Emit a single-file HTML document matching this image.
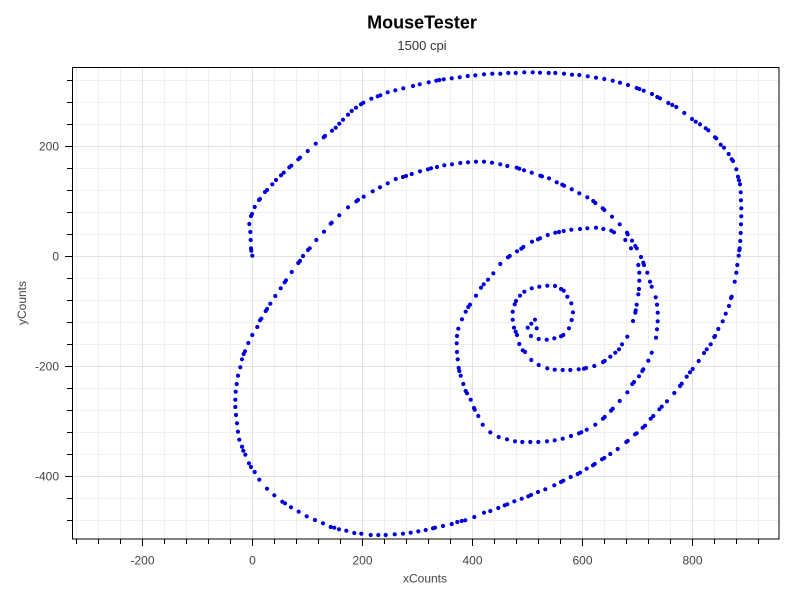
<!DOCTYPE html>
<html><head><meta charset="utf-8"><style>
html,body{margin:0;padding:0;background:#fff;}
svg{display:block;}
text{font-family:"Liberation Sans",sans-serif;}
</style></head><body>
<svg width="800" height="600" viewBox="0 0 800 600" xmlns="http://www.w3.org/2000/svg">
<rect width="800" height="600" fill="#fff"/>
<text x="422" y="28.5" font-size="18" font-weight="bold" text-anchor="middle" fill="#000">MouseTester</text>
<text x="422" y="50" font-size="13" text-anchor="middle" fill="#333">1500 cpi</text>
<g id="grid" stroke-width="1" shape-rendering="crispEdges">
<g stroke="#f0f0f0">
<line x1="76.5" y1="67" x2="76.5" y2="539"/><line x1="98.5" y1="67" x2="98.5" y2="539"/><line x1="120.5" y1="67" x2="120.5" y2="539"/><line x1="164.5" y1="67" x2="164.5" y2="539"/><line x1="186.5" y1="67" x2="186.5" y2="539"/><line x1="208.5" y1="67" x2="208.5" y2="539"/><line x1="230.5" y1="67" x2="230.5" y2="539"/><line x1="274.5" y1="67" x2="274.5" y2="539"/><line x1="296.5" y1="67" x2="296.5" y2="539"/><line x1="318.5" y1="67" x2="318.5" y2="539"/><line x1="340.5" y1="67" x2="340.5" y2="539"/><line x1="384.5" y1="67" x2="384.5" y2="539"/><line x1="406.5" y1="67" x2="406.5" y2="539"/><line x1="428.5" y1="67" x2="428.5" y2="539"/><line x1="450.5" y1="67" x2="450.5" y2="539"/><line x1="494.5" y1="67" x2="494.5" y2="539"/><line x1="516.5" y1="67" x2="516.5" y2="539"/><line x1="538.5" y1="67" x2="538.5" y2="539"/><line x1="560.5" y1="67" x2="560.5" y2="539"/><line x1="604.5" y1="67" x2="604.5" y2="539"/><line x1="626.5" y1="67" x2="626.5" y2="539"/><line x1="648.5" y1="67" x2="648.5" y2="539"/><line x1="670.5" y1="67" x2="670.5" y2="539"/><line x1="714.5" y1="67" x2="714.5" y2="539"/><line x1="736.5" y1="67" x2="736.5" y2="539"/><line x1="758.5" y1="67" x2="758.5" y2="539"/>
<line x1="72" y1="80.5" x2="779" y2="80.5"/><line x1="72" y1="102.5" x2="779" y2="102.5"/><line x1="72" y1="124.5" x2="779" y2="124.5"/><line x1="72" y1="168.5" x2="779" y2="168.5"/><line x1="72" y1="190.5" x2="779" y2="190.5"/><line x1="72" y1="212.5" x2="779" y2="212.5"/><line x1="72" y1="234.5" x2="779" y2="234.5"/><line x1="72" y1="278.5" x2="779" y2="278.5"/><line x1="72" y1="300.5" x2="779" y2="300.5"/><line x1="72" y1="322.5" x2="779" y2="322.5"/><line x1="72" y1="344.5" x2="779" y2="344.5"/><line x1="72" y1="388.5" x2="779" y2="388.5"/><line x1="72" y1="410.5" x2="779" y2="410.5"/><line x1="72" y1="432.5" x2="779" y2="432.5"/><line x1="72" y1="454.5" x2="779" y2="454.5"/><line x1="72" y1="498.5" x2="779" y2="498.5"/><line x1="72" y1="520.5" x2="779" y2="520.5"/>
</g>
<g stroke="#e2e2e2">
<line x1="142.5" y1="67" x2="142.5" y2="539"/><line x1="252.5" y1="67" x2="252.5" y2="539"/><line x1="362.5" y1="67" x2="362.5" y2="539"/><line x1="472.5" y1="67" x2="472.5" y2="539"/><line x1="582.5" y1="67" x2="582.5" y2="539"/><line x1="692.5" y1="67" x2="692.5" y2="539"/>
<line x1="72" y1="146.5" x2="779" y2="146.5"/><line x1="72" y1="256.5" x2="779" y2="256.5"/><line x1="72" y1="366.5" x2="779" y2="366.5"/><line x1="72" y1="476.5" x2="779" y2="476.5"/>
</g>
</g>
<rect x="72.5" y="67.5" width="706.5" height="471.5" fill="none" stroke="#000" stroke-width="1" shape-rendering="crispEdges"/>
<g stroke="#000" stroke-width="1" shape-rendering="crispEdges">
<line x1="76.5" y1="539" x2="76.5" y2="544"/><line x1="98.5" y1="539" x2="98.5" y2="544"/><line x1="120.5" y1="539" x2="120.5" y2="544"/><line x1="142.5" y1="539" x2="142.5" y2="546"/><line x1="164.5" y1="539" x2="164.5" y2="544"/><line x1="186.5" y1="539" x2="186.5" y2="544"/><line x1="208.5" y1="539" x2="208.5" y2="544"/><line x1="230.5" y1="539" x2="230.5" y2="544"/><line x1="252.5" y1="539" x2="252.5" y2="546"/><line x1="274.5" y1="539" x2="274.5" y2="544"/><line x1="296.5" y1="539" x2="296.5" y2="544"/><line x1="318.5" y1="539" x2="318.5" y2="544"/><line x1="340.5" y1="539" x2="340.5" y2="544"/><line x1="362.5" y1="539" x2="362.5" y2="546"/><line x1="384.5" y1="539" x2="384.5" y2="544"/><line x1="406.5" y1="539" x2="406.5" y2="544"/><line x1="428.5" y1="539" x2="428.5" y2="544"/><line x1="450.5" y1="539" x2="450.5" y2="544"/><line x1="472.5" y1="539" x2="472.5" y2="546"/><line x1="494.5" y1="539" x2="494.5" y2="544"/><line x1="516.5" y1="539" x2="516.5" y2="544"/><line x1="538.5" y1="539" x2="538.5" y2="544"/><line x1="560.5" y1="539" x2="560.5" y2="544"/><line x1="582.5" y1="539" x2="582.5" y2="546"/><line x1="604.5" y1="539" x2="604.5" y2="544"/><line x1="626.5" y1="539" x2="626.5" y2="544"/><line x1="648.5" y1="539" x2="648.5" y2="544"/><line x1="670.5" y1="539" x2="670.5" y2="544"/><line x1="692.5" y1="539" x2="692.5" y2="546"/><line x1="714.5" y1="539" x2="714.5" y2="544"/><line x1="736.5" y1="539" x2="736.5" y2="544"/><line x1="758.5" y1="539" x2="758.5" y2="544"/>
<line x1="67" y1="80.5" x2="72" y2="80.5"/><line x1="67" y1="102.5" x2="72" y2="102.5"/><line x1="67" y1="124.5" x2="72" y2="124.5"/><line x1="65" y1="146.5" x2="72" y2="146.5"/><line x1="67" y1="168.5" x2="72" y2="168.5"/><line x1="67" y1="190.5" x2="72" y2="190.5"/><line x1="67" y1="212.5" x2="72" y2="212.5"/><line x1="67" y1="234.5" x2="72" y2="234.5"/><line x1="65" y1="256.5" x2="72" y2="256.5"/><line x1="67" y1="278.5" x2="72" y2="278.5"/><line x1="67" y1="300.5" x2="72" y2="300.5"/><line x1="67" y1="322.5" x2="72" y2="322.5"/><line x1="67" y1="344.5" x2="72" y2="344.5"/><line x1="65" y1="366.5" x2="72" y2="366.5"/><line x1="67" y1="388.5" x2="72" y2="388.5"/><line x1="67" y1="410.5" x2="72" y2="410.5"/><line x1="67" y1="432.5" x2="72" y2="432.5"/><line x1="67" y1="454.5" x2="72" y2="454.5"/><line x1="65" y1="476.5" x2="72" y2="476.5"/><line x1="67" y1="498.5" x2="72" y2="498.5"/><line x1="67" y1="520.5" x2="72" y2="520.5"/>
</g>
<g font-size="12" fill="#444" text-anchor="middle">
<text x="142.5" y="564.5">-200</text><text x="252.5" y="564.5">0</text><text x="362.5" y="564.5">200</text><text x="472.5" y="564.5">400</text><text x="582.5" y="564.5">600</text><text x="692.5" y="564.5">800</text>
</g>
<g font-size="12" fill="#444" text-anchor="end">
<text x="59" y="150.5">200</text><text x="59" y="260.5">0</text><text x="59" y="370.5">-200</text><text x="59" y="480.5">-400</text>
</g>
<text x="425" y="582.5" font-size="12" fill="#444" text-anchor="middle">xCounts</text>
<text transform="translate(26,303) rotate(-90)" x="0" y="0" font-size="12" fill="#444" text-anchor="middle">yCounts</text>
<g fill="#0000dc" id="dots">
<circle cx="252.3" cy="255.7" r="2.1"/><circle cx="251.3" cy="250.7" r="2.1"/><circle cx="251" cy="248.3" r="2.1"/><circle cx="250.7" cy="240" r="2.1"/><circle cx="250.3" cy="232" r="2.1"/><circle cx="249.3" cy="224" r="2.1"/><circle cx="251" cy="216" r="2.1"/><circle cx="252" cy="214" r="2.1"/><circle cx="254.7" cy="207" r="2.1"/><circle cx="259" cy="200" r="2.1"/><circle cx="260" cy="199" r="2.1"/><circle cx="265" cy="192" r="2.1"/><circle cx="267" cy="190" r="2.1"/><circle cx="272.3" cy="184.3" r="2.1"/><circle cx="276" cy="180" r="2.1"/><circle cx="281" cy="175.3" r="2.1"/><circle cx="283.7" cy="172.7" r="2.1"/><circle cx="289.3" cy="167.3" r="2.1"/><circle cx="291.3" cy="165.7" r="2.1"/><circle cx="298.3" cy="159.3" r="2.1"/><circle cx="300" cy="157.7" r="2.1"/><circle cx="307.7" cy="151" r="2.1"/><circle cx="315.7" cy="143.7" r="2.1"/><circle cx="323.7" cy="137.3" r="2.1"/><circle cx="325" cy="136" r="2.1"/><circle cx="332" cy="130.7" r="2.1"/><circle cx="335.7" cy="127.7" r="2.1"/><circle cx="339.3" cy="123.7" r="2.1"/><circle cx="343" cy="119.7" r="2.1"/><circle cx="348" cy="114.7" r="2.1"/><circle cx="351.7" cy="111" r="2.1"/><circle cx="356" cy="107.7" r="2.1"/><circle cx="361" cy="104.3" r="2.1"/><circle cx="363.3" cy="102.7" r="2.1"/><circle cx="371.3" cy="98.7" r="2.1"/><circle cx="377.7" cy="96.3" r="2.1"/><circle cx="380.3" cy="95.3" r="2.1"/><circle cx="387.7" cy="92.3" r="2.1"/><circle cx="395.3" cy="90.3" r="2.1"/><circle cx="403.3" cy="88.3" r="2.1"/><circle cx="413" cy="86" r="2.1"/><circle cx="419.7" cy="84.3" r="2.1"/><circle cx="428.7" cy="82.3" r="2.1"/><circle cx="436.3" cy="80.7" r="2.1"/><circle cx="439.3" cy="80" r="2.1"/><circle cx="443.7" cy="79.3" r="2.1"/><circle cx="451.7" cy="78.3" r="2.1"/><circle cx="459.7" cy="77.3" r="2.1"/><circle cx="467.7" cy="76" r="2.1"/><circle cx="475.3" cy="75.3" r="2.1"/><circle cx="484" cy="74.3" r="2.1"/><circle cx="492.3" cy="73.7" r="2.1"/><circle cx="500.3" cy="73.7" r="2.1"/><circle cx="508.3" cy="73" r="2.1"/><circle cx="515.7" cy="73" r="2.1"/><circle cx="524.3" cy="72.3" r="2.1"/><circle cx="532.7" cy="72.3" r="2.1"/><circle cx="540" cy="72.7" r="2.1"/><circle cx="548.7" cy="73" r="2.1"/><circle cx="555.3" cy="73" r="2.1"/><circle cx="564" cy="73.7" r="2.1"/><circle cx="572" cy="74.7" r="2.1"/><circle cx="579.3" cy="75" r="2.1"/><circle cx="587.7" cy="76.3" r="2.1"/><circle cx="596" cy="77.7" r="2.1"/><circle cx="604.3" cy="79" r="2.1"/><circle cx="612.7" cy="80.7" r="2.1"/><circle cx="620" cy="82.7" r="2.1"/><circle cx="628" cy="85" r="2.1"/><circle cx="636.7" cy="88" r="2.1"/><circle cx="639.3" cy="89" r="2.1"/><circle cx="643.7" cy="90.7" r="2.1"/><circle cx="652" cy="94" r="2.1"/><circle cx="657.3" cy="97" r="2.1"/><circle cx="660" cy="98.3" r="2.1"/><circle cx="668.3" cy="103" r="2.1"/><circle cx="672.3" cy="105" r="2.1"/><circle cx="676.3" cy="107" r="2.1"/><circle cx="684.3" cy="113" r="2.1"/><circle cx="692" cy="119" r="2.1"/><circle cx="695.7" cy="121.7" r="2.1"/><circle cx="700" cy="124.3" r="2.1"/><circle cx="705.7" cy="128.3" r="2.1"/><circle cx="708.3" cy="130.3" r="2.1"/><circle cx="715" cy="137.3" r="2.1"/><circle cx="716.3" cy="138.3" r="2.1"/><circle cx="720.7" cy="144.7" r="2.1"/><circle cx="724" cy="147.7" r="2.1"/><circle cx="728.7" cy="154" r="2.1"/><circle cx="731.7" cy="159.3" r="2.1"/><circle cx="733" cy="161" r="2.1"/><circle cx="736.3" cy="169.3" r="2.1"/><circle cx="738" cy="176.7" r="2.1"/><circle cx="739" cy="180.3" r="2.1"/><circle cx="740" cy="184.3" r="2.1"/><circle cx="740.7" cy="192.3" r="2.1"/><circle cx="741" cy="200.3" r="2.1"/><circle cx="741.3" cy="208.3" r="2.1"/><circle cx="741.3" cy="216.3" r="2.1"/><circle cx="741" cy="224.3" r="2.1"/><circle cx="740.7" cy="233" r="2.1"/><circle cx="740.3" cy="241" r="2.1"/><circle cx="739.7" cy="248.3" r="2.1"/><circle cx="739.3" cy="250.3" r="2.1"/><circle cx="738.7" cy="255.7" r="2.1"/><circle cx="737.3" cy="265" r="2.1"/><circle cx="736.3" cy="272.7" r="2.1"/>
<circle cx="734.7" cy="281.7" r="2.1"/><circle cx="731.7" cy="296.7" r="2.1"/><circle cx="731" cy="298" r="2.1"/><circle cx="729" cy="306" r="2.1"/><circle cx="725.7" cy="313.7" r="2.1"/><circle cx="722.7" cy="321.3" r="2.1"/><circle cx="718.3" cy="329" r="2.1"/><circle cx="715" cy="336" r="2.1"/><circle cx="714.3" cy="337" r="2.1"/><circle cx="710.7" cy="344.3" r="2.1"/><circle cx="706.7" cy="349.3" r="2.1"/><circle cx="704" cy="353" r="2.1"/><circle cx="698.7" cy="361" r="2.1"/><circle cx="692.7" cy="369" r="2.1"/><circle cx="690" cy="372.3" r="2.1"/><circle cx="686.7" cy="376.7" r="2.1"/><circle cx="681.7" cy="383.7" r="2.1"/><circle cx="680" cy="386" r="2.1"/><circle cx="674.3" cy="393" r="2.1"/><circle cx="667" cy="401.3" r="2.1"/><circle cx="661.7" cy="406.7" r="2.1"/><circle cx="659.3" cy="409.3" r="2.1"/><circle cx="653.3" cy="416" r="2.1"/><circle cx="650.7" cy="418.7" r="2.1"/><circle cx="645" cy="425.7" r="2.1"/><circle cx="642.7" cy="427.7" r="2.1"/><circle cx="636.7" cy="433.3" r="2.1"/><circle cx="635" cy="434.3" r="2.1"/><circle cx="627.7" cy="441" r="2.1"/><circle cx="626.3" cy="442" r="2.1"/><circle cx="617.7" cy="449" r="2.1"/><circle cx="610.3" cy="454" r="2.1"/><circle cx="604.3" cy="458" r="2.1"/><circle cx="602" cy="459.3" r="2.1"/><circle cx="594.7" cy="464" r="2.1"/><circle cx="593" cy="465.3" r="2.1"/><circle cx="586.7" cy="468.7" r="2.1"/><circle cx="580" cy="472.7" r="2.1"/><circle cx="577.7" cy="474" r="2.1"/><circle cx="570.7" cy="477" r="2.1"/><circle cx="563.3" cy="480.7" r="2.1"/><circle cx="561" cy="482" r="2.1"/><circle cx="554.3" cy="485.3" r="2.1"/><circle cx="545.3" cy="489.3" r="2.1"/><circle cx="538" cy="492" r="2.1"/><circle cx="531" cy="495" r="2.1"/><circle cx="528.3" cy="496.3" r="2.1"/><circle cx="521.7" cy="498.7" r="2.1"/><circle cx="514.3" cy="501.3" r="2.1"/><circle cx="507.3" cy="504.3" r="2.1"/><circle cx="504.7" cy="505.3" r="2.1"/><circle cx="498.3" cy="508" r="2.1"/><circle cx="490.3" cy="511" r="2.1"/><circle cx="484" cy="512.7" r="2.1"/><circle cx="474.3" cy="517" r="2.1"/><circle cx="465.3" cy="520.3" r="2.1"/><circle cx="461.7" cy="521" r="2.1"/><circle cx="457.3" cy="522" r="2.1"/><circle cx="451.7" cy="524" r="2.1"/><circle cx="443" cy="526" r="2.1"/><circle cx="435" cy="527.7" r="2.1"/><circle cx="433" cy="528.3" r="2.1"/><circle cx="425.7" cy="530" r="2.1"/><circle cx="418.3" cy="531.3" r="2.1"/><circle cx="410.7" cy="532.7" r="2.1"/><circle cx="403" cy="533.7" r="2.1"/><circle cx="394.7" cy="534.3" r="2.1"/><circle cx="385.7" cy="535" r="2.1"/><circle cx="378.3" cy="535" r="2.1"/><circle cx="370.7" cy="535" r="2.1"/><circle cx="361.3" cy="533.7" r="2.1"/><circle cx="354.3" cy="533" r="2.1"/><circle cx="346.3" cy="530.7" r="2.1"/><circle cx="339" cy="529.3" r="2.1"/><circle cx="334.3" cy="527.7" r="2.1"/><circle cx="330.7" cy="527" r="2.1"/><circle cx="323" cy="523.3" r="2.1"/><circle cx="315" cy="520" r="2.1"/><circle cx="306.7" cy="516.3" r="2.1"/><circle cx="298.7" cy="511.7" r="2.1"/><circle cx="291" cy="507.3" r="2.1"/><circle cx="285" cy="503.3" r="2.1"/><circle cx="282.3" cy="501.7" r="2.1"/><circle cx="274.3" cy="495.3" r="2.1"/><circle cx="267" cy="488.7" r="2.1"/><circle cx="259.3" cy="479.7" r="2.1"/><circle cx="254.7" cy="472" r="2.1"/><circle cx="251" cy="467" r="2.1"/><circle cx="249" cy="463.3" r="2.1"/><circle cx="245.3" cy="454.7" r="2.1"/><circle cx="243.3" cy="450.7" r="2.1"/><circle cx="242" cy="446.7" r="2.1"/><circle cx="239.3" cy="439.7" r="2.1"/><circle cx="238" cy="431.7" r="2.1"/><circle cx="237" cy="423.3" r="2.1"/><circle cx="236" cy="415" r="2.1"/><circle cx="235.3" cy="407" r="2.1"/><circle cx="235.3" cy="399.7" r="2.1"/><circle cx="235.7" cy="391.7" r="2.1"/><circle cx="236.7" cy="384" r="2.1"/><circle cx="238" cy="375.7" r="2.1"/><circle cx="240.3" cy="367.3" r="2.1"/><circle cx="242" cy="359.3" r="2.1"/><circle cx="243.7" cy="354" r="2.1"/><circle cx="245" cy="351.3" r="2.1"/><circle cx="248.3" cy="343" r="2.1"/><circle cx="252.3" cy="335" r="2.1"/><circle cx="257.3" cy="327" r="2.1"/><circle cx="260" cy="320.3" r="2.1"/><circle cx="261.3" cy="318.7" r="2.1"/><circle cx="265.7" cy="311" r="2.1"/><circle cx="267" cy="309" r="2.1"/><circle cx="270.3" cy="303.7" r="2.1"/><circle cx="275.3" cy="296" r="2.1"/><circle cx="280.7" cy="288.3" r="2.1"/><circle cx="284.7" cy="282.3" r="2.1"/><circle cx="286" cy="280.3" r="2.1"/><circle cx="291.7" cy="272" r="2.1"/><circle cx="298.3" cy="263" r="2.1"/>
<circle cx="300" cy="261" r="2.1"/><circle cx="303" cy="256" r="2.1"/><circle cx="308" cy="250" r="2.1"/><circle cx="309.7" cy="248.3" r="2.1"/><circle cx="316.3" cy="240" r="2.1"/><circle cx="324" cy="231.7" r="2.1"/><circle cx="330.7" cy="223.7" r="2.1"/><circle cx="331.7" cy="222.7" r="2.1"/><circle cx="339.3" cy="215.3" r="2.1"/><circle cx="348" cy="207.3" r="2.1"/><circle cx="356.3" cy="201.3" r="2.1"/><circle cx="358" cy="200" r="2.1"/><circle cx="363.7" cy="196.7" r="2.1"/><circle cx="372.7" cy="191.3" r="2.1"/><circle cx="380" cy="187.3" r="2.1"/><circle cx="387.7" cy="183.3" r="2.1"/><circle cx="395.7" cy="179" r="2.1"/><circle cx="403" cy="177" r="2.1"/><circle cx="406" cy="176" r="2.1"/><circle cx="411.7" cy="174" r="2.1"/><circle cx="420" cy="171.3" r="2.1"/><circle cx="428" cy="169.3" r="2.1"/><circle cx="431" cy="168.3" r="2.1"/><circle cx="437" cy="167" r="2.1"/><circle cx="444.3" cy="165.3" r="2.1"/><circle cx="452" cy="164.3" r="2.1"/><circle cx="460.3" cy="163" r="2.1"/><circle cx="468" cy="162.3" r="2.1"/><circle cx="476" cy="161.7" r="2.1"/><circle cx="484" cy="161.7" r="2.1"/><circle cx="492" cy="162.7" r="2.1"/><circle cx="500.3" cy="164.3" r="2.1"/><circle cx="507.3" cy="166" r="2.1"/><circle cx="516.7" cy="167.7" r="2.1"/><circle cx="519.3" cy="168.7" r="2.1"/><circle cx="524" cy="170.3" r="2.1"/><circle cx="531.7" cy="172.7" r="2.1"/><circle cx="540.3" cy="175.7" r="2.1"/><circle cx="542" cy="176.3" r="2.1"/><circle cx="549" cy="178.3" r="2.1"/><circle cx="556.7" cy="182.3" r="2.1"/><circle cx="562.3" cy="184.7" r="2.1"/><circle cx="564" cy="185.7" r="2.1"/><circle cx="571.7" cy="189.3" r="2.1"/><circle cx="579.3" cy="193.3" r="2.1"/><circle cx="587.3" cy="197.3" r="2.1"/><circle cx="593.3" cy="201" r="2.1"/><circle cx="595.3" cy="203" r="2.1"/><circle cx="602.7" cy="208.3" r="2.1"/><circle cx="604.3" cy="210" r="2.1"/><circle cx="612" cy="216.7" r="2.1"/><circle cx="619.7" cy="224.3" r="2.1"/><circle cx="627" cy="232.7" r="2.1"/><circle cx="627.7" cy="234.3" r="2.1"/><circle cx="632" cy="240.7" r="2.1"/><circle cx="635.3" cy="246" r="2.1"/><circle cx="636.7" cy="248.3" r="2.1"/><circle cx="641" cy="257" r="2.1"/><circle cx="643.3" cy="262.7" r="2.1"/><circle cx="644" cy="265" r="2.1"/><circle cx="647.3" cy="272.7" r="2.1"/><circle cx="650" cy="281.7" r="2.1"/><circle cx="651.7" cy="286.7" r="2.1"/><circle cx="655.7" cy="297.3" r="2.1"/><circle cx="657" cy="304.7" r="2.1"/><circle cx="657.7" cy="312.7" r="2.1"/><circle cx="657.7" cy="321.3" r="2.1"/><circle cx="657" cy="329.3" r="2.1"/><circle cx="656" cy="337.7" r="2.1"/><circle cx="651.7" cy="352.7" r="2.1"/><circle cx="648.3" cy="360.7" r="2.1"/><circle cx="643.3" cy="369.3" r="2.1"/><circle cx="642.3" cy="371" r="2.1"/><circle cx="639" cy="376.3" r="2.1"/><circle cx="634" cy="382" r="2.1"/><circle cx="632.3" cy="384" r="2.1"/><circle cx="627.3" cy="392.3" r="2.1"/><circle cx="619.7" cy="401" r="2.1"/><circle cx="612.7" cy="408.7" r="2.1"/><circle cx="611" cy="410.7" r="2.1"/><circle cx="604.7" cy="417" r="2.1"/><circle cx="603" cy="418.7" r="2.1"/><circle cx="595.3" cy="424.7" r="2.1"/><circle cx="586.7" cy="429.7" r="2.1"/><circle cx="581.3" cy="432.3" r="2.1"/><circle cx="579" cy="433.3" r="2.1"/><circle cx="571" cy="436" r="2.1"/><circle cx="562.7" cy="438.7" r="2.1"/><circle cx="554.7" cy="440.3" r="2.1"/><circle cx="547" cy="441.3" r="2.1"/><circle cx="538.3" cy="442" r="2.1"/><circle cx="530.3" cy="442" r="2.1"/><circle cx="522.3" cy="442" r="2.1"/><circle cx="515" cy="441.3" r="2.1"/><circle cx="507" cy="439.3" r="2.1"/><circle cx="498.7" cy="437" r="2.1"/><circle cx="490.3" cy="432.3" r="2.1"/><circle cx="482.7" cy="424.7" r="2.1"/><circle cx="478.3" cy="416" r="2.1"/><circle cx="474.7" cy="409.7" r="2.1"/><circle cx="474" cy="408" r="2.1"/><circle cx="470.7" cy="399.7" r="2.1"/><circle cx="467" cy="393.3" r="2.1"/><circle cx="465.7" cy="391" r="2.1"/><circle cx="463.3" cy="384" r="2.1"/><circle cx="460.7" cy="375.7" r="2.1"/><circle cx="459.3" cy="371" r="2.1"/><circle cx="458.7" cy="368" r="2.1"/><circle cx="457.7" cy="359.3" r="2.1"/><circle cx="457" cy="352" r="2.1"/><circle cx="456.7" cy="343.3" r="2.1"/><circle cx="457" cy="336" r="2.1"/><circle cx="458.3" cy="328.7" r="2.1"/><circle cx="462" cy="319.3" r="2.1"/><circle cx="465.7" cy="311.7" r="2.1"/><circle cx="468.3" cy="307" r="2.1"/><circle cx="470" cy="304.7" r="2.1"/><circle cx="476" cy="295.7" r="2.1"/><circle cx="481" cy="287.7" r="2.1"/><circle cx="483.7" cy="284.3" r="2.1"/><circle cx="488" cy="279.7" r="2.1"/><circle cx="493.3" cy="273.3" r="2.1"/><circle cx="500.3" cy="264" r="2.1"/><circle cx="508" cy="257.3" r="2.1"/><circle cx="509.7" cy="256" r="2.1"/><circle cx="517" cy="251.3" r="2.1"/><circle cx="521.3" cy="248.7" r="2.1"/><circle cx="523.3" cy="247" r="2.1"/><circle cx="532" cy="241.7" r="2.1"/><circle cx="538" cy="239.3" r="2.1"/><circle cx="540" cy="238.3" r="2.1"/><circle cx="547.7" cy="235" r="2.1"/><circle cx="555.3" cy="232.7" r="2.1"/><circle cx="559" cy="232" r="2.1"/><circle cx="563.7" cy="231" r="2.1"/><circle cx="571.3" cy="229.7" r="2.1"/><circle cx="580" cy="229" r="2.1"/><circle cx="587.3" cy="228.3" r="2.1"/><circle cx="596" cy="227.7" r="2.1"/><circle cx="603.3" cy="229" r="2.1"/><circle cx="611.3" cy="230.7" r="2.1"/><circle cx="614" cy="232.3" r="2.1"/><circle cx="625.3" cy="240" r="2.1"/><circle cx="631" cy="248.3" r="2.1"/><circle cx="638.3" cy="265" r="2.1"/><circle cx="639.3" cy="272.7" r="2.1"/><circle cx="639.3" cy="280.7" r="2.1"/><circle cx="639" cy="289" r="2.1"/><circle cx="638.3" cy="294.3" r="2.1"/><circle cx="636.7" cy="304.7" r="2.1"/><circle cx="635.7" cy="310.3" r="2.1"/><circle cx="635.3" cy="312.7" r="2.1"/><circle cx="633" cy="321" r="2.1"/><circle cx="627.3" cy="336.7" r="2.1"/><circle cx="622" cy="344.3" r="2.1"/><circle cx="619" cy="349.3" r="2.1"/><circle cx="615.3" cy="352.7" r="2.1"/><circle cx="610.3" cy="356.7" r="2.1"/><circle cx="604.7" cy="361" r="2.1"/><circle cx="603" cy="362" r="2.1"/><circle cx="594.3" cy="366" r="2.1"/><circle cx="586" cy="368" r="2.1"/><circle cx="584" cy="368.7" r="2.1"/><circle cx="578.7" cy="369.3" r="2.1"/><circle cx="570.3" cy="370" r="2.1"/><circle cx="562.7" cy="370" r="2.1"/><circle cx="554.7" cy="369.7" r="2.1"/><circle cx="547.3" cy="368.3" r="2.1"/><circle cx="538.7" cy="365" r="2.1"/><circle cx="531.3" cy="360" r="2.1"/><circle cx="525" cy="352" r="2.1"/><circle cx="522.7" cy="350.3" r="2.1"/><circle cx="519.3" cy="344" r="2.1"/><circle cx="517" cy="335" r="2.1"/><circle cx="515.7" cy="331.7" r="2.1"/><circle cx="514" cy="327.7" r="2.1"/><circle cx="512.7" cy="319.7" r="2.1"/><circle cx="512.7" cy="311.7" r="2.1"/><circle cx="514.7" cy="304.3" r="2.1"/><circle cx="516" cy="301" r="2.1"/><circle cx="520" cy="295.7" r="2.1"/><circle cx="524.3" cy="291.7" r="2.1"/><circle cx="531.7" cy="288.3" r="2.1"/><circle cx="539.3" cy="286.7" r="2.1"/><circle cx="547.3" cy="285.7" r="2.1"/><circle cx="555" cy="286" r="2.1"/><circle cx="561" cy="289" r="2.1"/><circle cx="563.7" cy="290.7" r="2.1"/><circle cx="567.3" cy="296.7" r="2.1"/><circle cx="571.3" cy="303.3" r="2.1"/><circle cx="573" cy="312.3" r="2.1"/><circle cx="571.7" cy="320" r="2.1"/><circle cx="569" cy="328.3" r="2.1"/><circle cx="563.3" cy="335" r="2.1"/><circle cx="561" cy="336.3" r="2.1"/><circle cx="554.3" cy="338.3" r="2.1"/><circle cx="546.7" cy="339.7" r="2.1"/><circle cx="538.7" cy="339" r="2.1"/><circle cx="531" cy="336" r="2.1"/><circle cx="527.7" cy="327.7" r="2.1"/><circle cx="531.3" cy="323.7" r="2.1"/><circle cx="535" cy="319.7" r="2.1"/><circle cx="536.7" cy="328.3" r="2.1"/>
</g>
</svg>
</body></html>
